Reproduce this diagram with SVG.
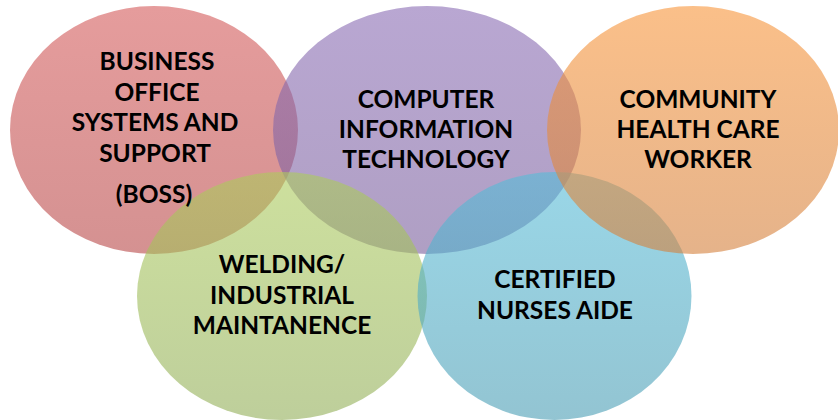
<svg xmlns="http://www.w3.org/2000/svg" width="838" height="420" viewBox="0 0 838 420">
<defs>
<linearGradient id="gRed" x1="0" y1="0" x2="0" y2="1">
<stop offset="0" stop-color="#D45A5A"/><stop offset="1" stop-color="#B84848"/>
</linearGradient>
<linearGradient id="gPurple" x1="0" y1="0" x2="0" y2="1">
<stop offset="0" stop-color="#8A6CB4"/><stop offset="1" stop-color="#7A5F9C"/>
</linearGradient>
<linearGradient id="gOrange" x1="0" y1="0" x2="0" y2="1">
<stop offset="0" stop-color="#F8953A"/><stop offset="1" stop-color="#D4803C"/>
</linearGradient>
<linearGradient id="gGreen" x1="0" y1="0" x2="0" y2="1">
<stop offset="0" stop-color="#ACCB5C"/><stop offset="1" stop-color="#92AE58"/>
</linearGradient>
<linearGradient id="gBlue" x1="0" y1="0" x2="0" y2="1">
<stop offset="0" stop-color="#56BCD8"/><stop offset="1" stop-color="#4A9DB4"/>
</linearGradient>
</defs>
<style>
.c{fill-opacity:0.6;stroke:none}
.t{font-family:Lato,"Open Sans","Liberation Sans",sans-serif;font-weight:bold;font-size:24.5px;fill:#000;text-anchor:middle}
</style>
<g id="node-boss">
<ellipse class="c" cx="154" cy="130" rx="144" ry="124" fill="url(#gRed)"/>
</g>
<g id="node-cit">
<ellipse class="c" cx="427" cy="130" rx="154" ry="124" fill="url(#gPurple)"/>
</g>
<g id="node-weld">
<ellipse class="c" cx="282" cy="296" rx="145" ry="124" fill="url(#gGreen)"/>
</g>
<g id="node-cna">
<ellipse class="c" cx="554.5" cy="296" rx="137" ry="124" fill="url(#gBlue)"/>
</g>
<g id="node-chcw">
<ellipse class="c" cx="693" cy="130" rx="146" ry="124" fill="url(#gOrange)"/>
</g>
<g id="labels">
<text class="t" x="157" y="70">BUSINESS</text>
<text class="t" x="157" y="101">OFFICE</text>
<text class="t" x="155" y="131">SYSTEMS AND</text>
<text class="t" x="155" y="162">SUPPORT</text>
<text class="t" x="154" y="203">(BOSS)</text>
<text class="t" x="426" y="108">COMPUTER</text>
<text class="t" x="426" y="138">INFORMATION</text>
<text class="t" x="426" y="168">TECHNOLOGY</text>
<text class="t" x="698" y="108">COMMUNITY</text>
<text class="t" x="698" y="138">HEALTH CARE</text>
<text class="t" x="698" y="168">WORKER</text>
<text class="t" x="282" y="273">WELDING/</text>
<text class="t" x="282" y="304">INDUSTRIAL</text>
<text class="t" x="282" y="334">MAINTANENCE</text>
<text class="t" x="555" y="288">CERTIFIED</text>
<text class="t" x="555" y="319">NURSES AIDE</text>
</g>
</svg>
